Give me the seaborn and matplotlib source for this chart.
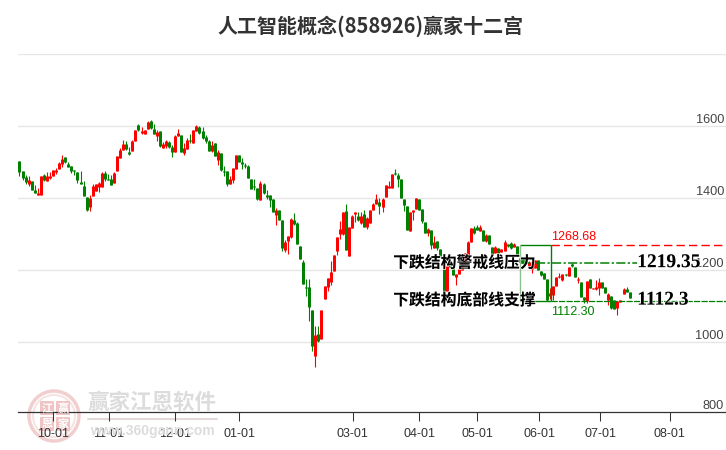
import matplotlib
matplotlib.use('Agg')
from matplotlib import pyplot as plt
from matplotlib.patches import Circle, FancyBboxPatch
from matplotlib.transforms import IdentityTransform
import matplotlib.patheffects as pe
import numpy as np
import pandas as pd
import seaborn as sns

# K线数据
open_p = [1502,1474,1456,1438,1445,1421,1407,1407,1462,1446,
          1454,1461,1472,1479,1493,1512,1493,1487,1478,1471,
          1442,1432,1401,1373,1404,1419,1430,1430,1467,1452,
          1452,1440,1474,1510,1532,1549,1527,1529,1558,1602,
          1580,1577,1590,1613,1591,1572,1584,1539,1543,1554,
          1540,1527,1572,1574,1525,1535,1559,1552,1586,1597,
          1584,1568,1556,1530,1552,1505,1525,1474,1473,1439,
          1449,1480,1518,1500,1490,1489,1453,1432,1426,1394,
          1439,1406,1406,1395,1352,1366,1338,1254,1280,1291,
          1337,1330,1266,1221,1152,1152,1088,961,1021,1007,
          1119,1152,1165,1197,1253,1298,1299,1362,1239,1316,
          1355,1349,1329,1354,1317,1330,1365,1383,1389,1373,
          1403,1428,1428,1469,1463,1452,1395,1377,1308,1359,
          1368,1396,1368,1331,1303,1310,1261,1279,1258,1203,
          1141,1217,1203,1180,1188,1199,1215,1239,1277,1315,
          1317,1308,1310,1280,1295,1262,1247,1259,1250,1252,
          1270,1273,1264,1266,1231,1229,1227,1210,1201,1204,
          1227,1196,1190,1173,1128,1129,1155,1179,1171,1188,
          1183,1215,1208,1171,1166,1125,1114,1173,1145,1145,
          1148,1165,1151,1116,1127,1116,1092,1110,1132,1145,1138]
close_p = [1472,1455,1443,1448,1421,1414,1412,1459,1449,1460,
           1460,1477,1477,1495,1507,1499,1486,1474,1475,1449,
           1438,1404,1365,1399,1431,1439,1440,1467,1452,1449,
           1435,1468,1515,1532,1549,1534,1521,1556,1588,1588,
           1584,1589,1610,1594,1577,1583,1544,1549,1556,1541,
           1527,1571,1579,1527,1538,1559,1557,1587,1599,1580,
           1566,1558,1530,1546,1516,1527,1477,1471,1439,1453,
           1481,1518,1500,1492,1488,1455,1425,1430,1395,1441,
           1412,1403,1394,1361,1365,1338,1261,1277,1292,1340,
           1327,1272,1230,1161,1149,1097,989,1017,1002,1088,
           1154,1177,1193,1240,1290,1312,1361,1255,1317,1350,
           1360,1338,1349,1318,1343,1365,1382,1396,1378,1395,
           1435,1431,1465,1466,1453,1400,1379,1310,1360,1366,
           1399,1366,1336,1301,1314,1268,1276,1259,1236,1125,
           1210,1206,1185,1187,1201,1217,1245,1278,1315,1301,
           1310,1319,1280,1295,1271,1240,1264,1245,1258,1277,
           1266,1259,1271,1241,1222,1217,1217,1222,1206,1227,
           1199,1185,1173,1116,1136,1155,1180,1182,1188,1185,
           1208,1210,1180,1173,1125,1116,1168,1148,1150,1151,
           1166,1148,1134,1132,1092,1091,1114,1116,1147,1139,1120]
high_p = [1502,1474,1463,1460,1445,1435,1428,1459,1465,1471,
          1471,1478,1481,1499,1518,1512,1499,1489,1478,1471,
          1474,1446,1401,1407,1439,1439,1444,1471,1474,1465,
          1463,1471,1515,1538,1560,1558,1541,1560,1588,1604,
          1595,1589,1613,1615,1604,1588,1584,1555,1560,1558,
          1545,1574,1590,1574,1552,1565,1577,1587,1602,1599,
          1595,1574,1560,1558,1552,1532,1525,1489,1473,1460,
          1481,1518,1518,1510,1495,1491,1453,1453,1426,1445,
          1440,1421,1407,1395,1370,1366,1338,1282,1292,1342,
          1356,1333,1266,1227,1173,1173,1088,1043,1043,1088,
          1154,1178,1223,1240,1290,1335,1361,1382,1317,1352,
          1360,1361,1361,1365,1347,1365,1384,1410,1398,1398,
          1435,1447,1465,1479,1467,1452,1397,1377,1360,1366,
          1399,1396,1368,1331,1315,1310,1293,1279,1258,1203,
          1210,1225,1203,1187,1201,1217,1245,1280,1315,1321,
          1323,1324,1310,1299,1295,1262,1266,1259,1258,1282,
          1272,1276,1273,1266,1234,1232,1227,1225,1206,1227,
          1227,1196,1190,1173,1148,1155,1180,1190,1188,1188,
          1208,1217,1208,1180,1166,1125,1168,1173,1150,1171,
          1178,1165,1151,1134,1127,1116,1114,1116,1149,1151,1138]
low_p = [1460,1449,1438,1432,1421,1412,1407,1407,1446,1446,
         1451,1460,1465,1479,1486,1497,1484,1469,1463,1441,
         1438,1404,1363,1363,1404,1419,1415,1429,1447,1449,
         1435,1440,1474,1510,1532,1532,1518,1529,1558,1584,
         1577,1577,1590,1591,1577,1557,1541,1537,1539,1539,
         1514,1527,1572,1527,1518,1535,1551,1551,1586,1578,
         1564,1551,1530,1526,1516,1490,1474,1460,1433,1438,
         1440,1480,1498,1479,1481,1455,1423,1421,1393,1393,
         1410,1395,1375,1360,1324,1338,1253,1248,1243,1287,
         1324,1271,1230,1161,1127,1057,974,929,1000,1007,
         1119,1141,1157,1196,1240,1286,1296,1254,1239,1315,
         1333,1336,1327,1317,1313,1330,1365,1381,1354,1361,
         1403,1428,1428,1464,1430,1400,1364,1310,1308,1338,
         1368,1366,1330,1301,1293,1258,1261,1255,1236,1123,
         1141,1204,1185,1157,1188,1199,1215,1239,1277,1299,
         1310,1306,1280,1278,1271,1240,1247,1245,1248,1252,
         1264,1257,1262,1238,1218,1215,1217,1208,1190,1204,
         1199,1183,1173,1114,1117,1116,1155,1176,1169,1183,
         1183,1208,1180,1162,1125,1106,1106,1148,1145,1143,
         1129,1148,1134,1102,1091,1091,1074,1110,1132,1137,1120]

month_pos = [11, 29.3, 51, 72, 109.3, 131, 150, 170.3, 190.3, 213.2]
month_labels = ['10-01', '11-01', '12-01', '01-01', '03-01', '04-01', '05-01', '06-01', '07-01', '08-01']
price_ticks = [1000, 1200, 1400, 1600, 1800]
price_labels = ['1000', '1200', '1400', '1600', '']

upper_limit = 1268.68
warn_line = 1219.35
support_line = 1112.3

RED = '#ff0000'
GREEN = '#008000'
CJK = ['Noto Sans CJK SC', 'DejaVu Sans']

sns.set_theme(style='white')
plt.rcParams['font.family'] = CJK
plt.rcParams['axes.unicode_minus'] = False

fig = plt.figure(figsize=(7.26, 4.5), dpi=100)
ax = fig.add_axes([18 / 726, (450 - 412.3) / 450, 708 / 726, (412.3 - 53.6) / 450])
ax.patch.set_alpha(0)

# 水印
px = IdentityTransform()
wm = '#f2cfcf'
fig.add_artist(Circle((54, 34), 25, transform=px, fill=False, ec=wm, lw=2.5, zorder=0))
fig.add_artist(Circle((54, 34), 21, transform=px, fill=False, ec='#f8e2e2', lw=1.5, zorder=0))
for cx, cy, ch in [(47, 42, '江'), (63, 42, '赢'), (47, 26, '恩'), (63, 26, '家')]:
    fig.add_artist(FancyBboxPatch((cx - 6, cy - 6), 12, 12, boxstyle='round,pad=1', transform=px,
                                  fc='#f0c4c4', ec='none', zorder=0))
    fig.text(cx / 726, cy / 450, ch, color='white', fontsize=8, fontweight='bold', ha='center', va='center', zorder=0)
fig.text(152 / 726, 48 / 450, '赢家江恩软件', color='#dcdcdc', fontsize=15.5, fontweight='bold', ha='center', va='center', zorder=0)
fig.add_artist(plt.Line2D([88 / 726, 217 / 726], [31 / 450, 31 / 450], color='#e3d9d9', lw=1.5, zorder=0))
fig.text(152 / 726, 19 / 450, 'www.360gann.com', color='#dcdcdc', fontsize=10, fontweight='bold', ha='center', va='center', zorder=0,
         family='Liberation Sans')

# 蜡烛图
df = pd.DataFrame({'idx': np.arange(len(open_p)), 'open': open_p, 'close': close_p, 'high': high_p, 'low': low_p})
df['trend'] = np.where(df['close'] > df['open'], 'up', 'down')
colors = {'up': RED, 'down': GREEN}

wicks = df.melt(id_vars=['idx', 'trend'], value_vars=['high', 'low'], value_name='price').sort_values(['idx', 'variable'])
bodies = df.melt(id_vars=['idx', 'trend'], value_vars=['open', 'close'], value_name='price').sort_values(['idx', 'variable'])
sns.lineplot(data=wicks, x='idx', y='price', hue='trend', units='idx', estimator=None, sort=False, palette=colors,
             linewidth=0.8, legend=False, solid_capstyle='butt', ax=ax, zorder=3)
sns.lineplot(data=bodies, x='idx', y='price', hue='trend', units='idx', estimator=None, sort=False, palette=colors,
             linewidth=2.15, legend=False, solid_capstyle='butt', ax=ax, zorder=3)

ax.set_xlim(-0.49, 231.6)
ax.set_ylim(803.6, 1800)

# 结构线
box_l, box_r, label_r = 164.1, 174.1, 202.5
ax.hlines(upper_limit, box_r, 231.6, color=RED, lw=1, linestyles=(0, (6, 3)), zorder=4)
ax.hlines(warn_line, box_l, label_r, color=GREEN, lw=1.1, linestyles=(0, (6, 1.5, 1.5, 1.5)), zorder=4)
ax.hlines(support_line, box_l, box_r, color=GREEN, lw=1, zorder=4)
ax.hlines(support_line, box_r, 231.6, color=GREEN, lw=0.9, linestyles=(0, (5, 1)), zorder=4)
ax.hlines(upper_limit, box_l, box_r, color=GREEN, lw=1, zorder=4)
ax.vlines(box_r, support_line, upper_limit, color=GREEN, lw=1, zorder=4)
ax.vlines(box_l, support_line, upper_limit, color='#8fc08f', lw=1, zorder=4)

halo = [pe.withStroke(linewidth=1.2, foreground='white', alpha=0.7)]
ax.text(174.2, upper_limit + 22, '1268.68', color=RED, fontsize=9, ha='left', va='center', family='Liberation Sans', zorder=6)
ax.text(174.2, support_line - 31, '1112.30', color=GREEN, fontsize=9, ha='left', va='center', family='Liberation Sans', zorder=6)
ax.text(122.5, warn_line, '下跌结构警戒线压力', color='black', fontsize=11.4, fontweight='bold', ha='left', va='center',
        path_effects=halo, zorder=6)
ax.text(122.5, support_line + 3, '下跌结构底部线支撑', color='black', fontsize=11.4, fontweight='bold', ha='left', va='center',
        path_effects=halo, zorder=6)
ax.text(202.5, warn_line, '1219.35', color='black', fontsize=14, fontweight='bold', ha='left', va='center',
        family='Liberation Serif', path_effects=halo, zorder=6)
ax.text(202.5, support_line + 3, '1112.3', color='black', fontsize=14, fontweight='bold', ha='left', va='center',
        family='Liberation Serif', path_effects=halo, zorder=6)

# 坐标轴
ax.set_xlabel('')
ax.set_ylabel('')
ax.set_xticks(month_pos)
ax.set_xticklabels(month_labels, family='Liberation Sans', fontsize=9, color='#333333')
ax.tick_params(axis='x', length=6.5, width=0.75, color='#333333', pad=4.5, bottom=True)
ax.yaxis.tick_right()
ax.set_yticks(price_ticks)
ax.set_yticklabels(price_labels, family='Liberation Sans', fontsize=9.2, color='#444444', ha='right', va='bottom')
ax.tick_params(axis='y', length=0, pad=-1.5, right=False)
ax.grid(True, axis='y', color='#e6e6e6', lw=1)
ax.set_axisbelow(True)
sns.despine(ax=ax, left=True, right=True, top=True)
ax.spines['bottom'].set_color('#333333')
ax.spines['bottom'].set_linewidth(0.9)
ax.annotate('800', xy=(1, 803.6), xycoords=('axes fraction', 'data'), xytext=(-1.5, 0.5), textcoords='offset points',
            ha='right', va='bottom', family='Liberation Sans', fontsize=9.2, color='#444444')

fig.text(371 / 726, (450 - 26) / 450, '人工智能概念(858926)赢家十二宫', color='#333333', fontsize=14.4, fontweight='bold',
         ha='center', va='center')

fig.savefig('out.png', dpi=100)
plt.close(fig)
